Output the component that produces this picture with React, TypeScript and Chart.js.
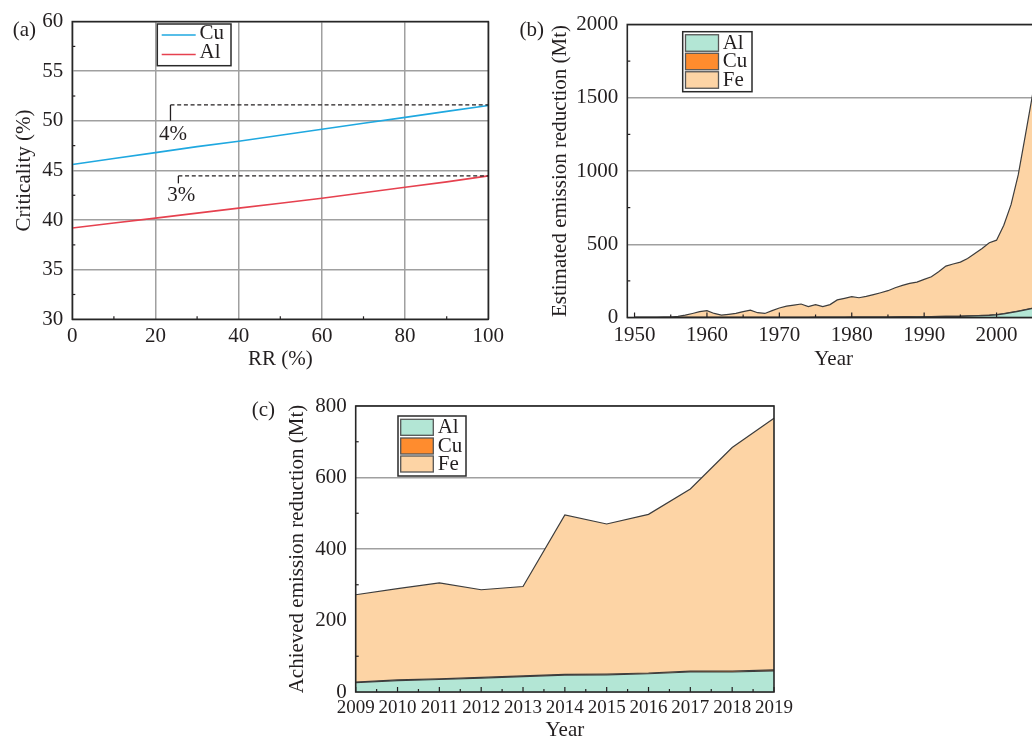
import { useEffect, useRef } from 'react';
import { Chart, registerables } from 'chart.js';
Chart.register(...registerables);

const SERIF = '"Liberation Serif", "Times New Roman", Times, serif';
const INK = '#231f20';
const GRID = '#a0a0a0';
const EDGE = '#3d3d3d';
const AL_FILL = '#b3e6d5';
const CU_FILL = '#ff8c2e';
const FE_FILL = '#fdd4a5';

// ---------- Panel (a): criticality vs recycling rate ----------
const rrPercent = [0, 10, 20, 30, 40, 50, 60, 70, 80, 90, 100];
const cuCriticality = [45.6, 46.2, 46.8, 47.4, 47.95, 48.55, 49.15, 49.75, 50.35, 50.95, 51.55];
const alCriticality = [39.2, 39.7, 40.2, 40.7, 41.2, 41.7, 42.2, 42.75, 43.3, 43.85, 44.45];
const aNoteLabels = ['4%', '3%'];
const aNoteX = [23.6, 25.5];
const aNoteTop = [51.6, 44.45];
const aNoteBottom = [50.0, 43.7];
const aNoteTextX = [24.2, 26.2];
const aNoteTextY = [48.6, 42.5];

// ---------- Panel (b): estimated emission reduction ----------
const bYears = [
  1950, 1951, 1952, 1953, 1954, 1955, 1956, 1957, 1958, 1959,
  1960, 1961, 1962, 1963, 1964, 1965, 1966, 1967, 1968, 1969,
  1970, 1971, 1972, 1973, 1974, 1975, 1976, 1977, 1978, 1979,
  1980, 1981, 1982, 1983, 1984, 1985, 1986, 1987, 1988, 1989,
  1990, 1991, 1992, 1993, 1994, 1995, 1996, 1997, 1998, 1999,
  2000, 2001, 2002, 2003, 2004, 2005,
];
const bAl = [
  0.3, 0.3, 0.3, 0.3, 0.3, 0.3, 0.3, 0.3, 0.3, 0.3,
  0.5, 0.5, 0.5, 0.5, 0.5, 0.5, 0.5, 0.5, 0.5, 0.5,
  1, 1, 1, 1, 1, 1.5, 1.5, 1.5, 1.5, 1.5,
  2, 2, 2.5, 2.5, 3, 3, 3.5, 4, 4, 4.5,
  5, 5.5, 6, 7, 7.5, 8, 10, 11, 13, 15,
  18, 25, 33, 42, 52, 62,
];
const bCu = [
  0.2, 0.2, 0.2, 0.2, 0.2, 0.2, 0.2, 0.2, 0.2, 0.2,
  0.2, 0.2, 0.2, 0.2, 0.2, 0.2, 0.2, 0.2, 0.2, 0.2,
  0.5, 0.5, 0.5, 0.5, 0.5, 0.5, 0.5, 0.5, 0.5, 0.5,
  0.5, 0.5, 0.5, 0.5, 0.5, 0.5, 0.5, 0.5, 0.5, 0.5,
  1, 1, 1, 1, 1, 1, 1, 1, 1, 1,
  1.5, 1.5, 1.5, 1.5, 1.5, 1.5,
];
const bFe = [
  0, 0.3, 0.5, 1, 1.5, 2, 7, 16, 27, 39,
  46, 27, 16, 21, 27, 39, 50, 32, 27, 46,
  63.5, 76.5, 83.5, 90.5, 72.5, 86, 72, 86, 118, 129,
  139.5, 132.5, 141, 153, 165.5, 179.5, 199, 214.5, 228.5, 237,
  254, 271.5, 305, 343, 356.5, 369, 392, 425, 457, 494,
  508.5, 603.5, 735.5, 931.5, 1196.5, 1466.5,
];
const bXTicks = [1950, 1960, 1970, 1980, 1990, 2000];
const bXMinor = [1955, 1965, 1975, 1985, 1995, 2005];

// ---------- Panel (c): achieved emission reduction ----------
const cYears = ['2009', '2010', '2011', '2012', '2013', '2014', '2015', '2016', '2017', '2018', '2019'];
const cAl = [26, 32, 35, 39, 43, 47, 48, 51, 56, 56, 59];
const cCu = [1.5, 1.8, 1.9, 2.1, 2.0, 2.3, 2.4, 2.2, 2.6, 2.7, 2.9];
const cFe = [244.5, 255.2, 268.1, 244.9, 250, 445.7, 419.6, 443.8, 509.4, 625.3, 704.1];

const CW = 1100;
const CH = 760;

const decor = {
  id: 'decor',
  afterDatasetsDraw(chart: any, _args: any, opts: any) {
    const { ctx, chartArea: a } = chart;
    ctx.save();
    ctx.setLineDash([]);
    // inward tick marks
    ctx.strokeStyle = INK;
    ctx.lineWidth = 1.2;
    for (const t of opts.ticks || []) {
      const sc = chart.scales[t.axis];
      for (const v of t.values) {
        const p = sc.getPixelForValue(v);
        ctx.beginPath();
        if (t.axis === 'x') {
          ctx.moveTo(p, a.bottom);
          ctx.lineTo(p, a.bottom - t.len);
        } else {
          ctx.moveTo(a.left, p);
          ctx.lineTo(a.left + t.len, p);
        }
        ctx.stroke();
      }
    }
    // frame
    ctx.strokeStyle = '#262626';
    ctx.lineWidth = 1.6;
    ctx.strokeRect(a.left, a.top, a.right - a.left, a.bottom - a.top);

    // annotations
    const n = opts.notes;
    if (n) {
      const xs = chart.scales.x;
      const ys = chart.scales.y;
      ctx.strokeStyle = INK;
      ctx.lineWidth = 1.3;
      for (let i = 0; i < n.labels.length; i++) {
        const x0 = xs.getPixelForValue(n.x[i]);
        const yt = ys.getPixelForValue(n.top[i]);
        const yb = ys.getPixelForValue(n.bottom[i]);
        ctx.setLineDash([]);
        ctx.beginPath();
        ctx.moveTo(x0, yb);
        ctx.lineTo(x0, yt);
        ctx.stroke();
        ctx.setLineDash([4, 2.7]);
        ctx.beginPath();
        ctx.moveTo(x0, yt);
        ctx.lineTo(a.right, yt);
        ctx.stroke();
        ctx.setLineDash([]);
        ctx.fillStyle = INK;
        ctx.font = `21px ${SERIF}`;
        ctx.textAlign = 'center';
        ctx.textBaseline = 'middle';
        ctx.fillText(n.labels[i], xs.getPixelForValue(n.tx[i]), ys.getPixelForValue(n.ty[i]));
      }
    }

    // legend
    const lg = opts.legend;
    if (lg) {
      const [x0, y0, x1, y1] = lg.box;
      ctx.setLineDash([]);
      ctx.fillStyle = '#ffffff';
      ctx.fillRect(x0, y0, x1 - x0, y1 - y0);
      ctx.strokeStyle = '#2a2a2a';
      ctx.lineWidth = 1.5;
      ctx.strokeRect(x0, y0, x1 - x0, y1 - y0);
      chart.data.datasets.forEach((ds: any, i: number) => {
        const yc = lg.rows[i];
        if (lg.kind === 'line') {
          ctx.strokeStyle = ds.borderColor;
          ctx.lineWidth = 1.6;
          ctx.beginPath();
          ctx.moveTo(lg.sx0, yc + 2);
          ctx.lineTo(lg.sx1, yc + 2);
          ctx.stroke();
        } else {
          ctx.fillStyle = ds.backgroundColor;
          ctx.fillRect(lg.sx0, yc - lg.sh / 2, lg.sx1 - lg.sx0, lg.sh);
          ctx.strokeStyle = '#555555';
          ctx.lineWidth = 1.3;
          ctx.strokeRect(lg.sx0, yc - lg.sh / 2, lg.sx1 - lg.sx0, lg.sh);
        }
        ctx.fillStyle = INK;
        ctx.font = `21px ${SERIF}`;
        ctx.textAlign = 'left';
        ctx.textBaseline = 'middle';
        ctx.fillText(ds.label, lg.tx, yc);
      });
    }
    ctx.restore();
  },
};

const font21 = { family: SERIF, size: 21 };
const font19 = { family: SERIF, size: 19 };
const asText = (v: any) => String(v);

function areaDs(label: string, data: any[], color: string, fill: any) {
  return {
    label,
    data,
    backgroundColor: color,
    borderColor: EDGE,
    borderWidth: 1.2,
    pointRadius: 0,
    tension: 0,
    fill,
  };
}

function baseOptions(padding: any, extra: any) {
  return {
    responsive: false,
    animation: false,
    events: [],
    layout: { padding },
    plugins: { legend: { display: false }, tooltip: { enabled: false }, decor: extra },
  };
}

function configA(): any {
  return {
    type: 'line',
    data: {
      datasets: [
        { label: 'Cu', data: rrPercent.map((x, i) => ({ x, y: cuCriticality[i] })), borderColor: '#1fa8e0', borderWidth: 1.6, pointRadius: 0, fill: false },
        { label: 'Al', data: rrPercent.map((x, i) => ({ x, y: alCriticality[i] })), borderColor: '#e6414f', borderWidth: 1.6, pointRadius: 0, fill: false },
      ],
    },
    options: {
      ...baseOptions(
        { left: 7.4, top: 18.3, right: CW - 488.3, bottom: CH - 375.9 },
        {
          ticks: [
            { axis: 'x', values: [10, 30, 50, 70, 90], len: 3 },
            { axis: 'y', values: [32.5, 37.5, 42.5, 47.5, 52.5, 57.5], len: 3 },
          ],
          notes: { labels: aNoteLabels, x: aNoteX, top: aNoteTop, bottom: aNoteBottom, tx: aNoteTextX, ty: aNoteTextY },
          legend: { box: [157.3, 24, 231, 65.7], kind: 'line', rows: [33, 52.5], sx0: 161.7, sx1: 195.7, tx: 199.5 },
        }
      ),
      scales: {
        x: {
          type: 'linear', min: 0, max: 100,
          afterFit: (s: any) => { s.height = 56.6; },
          ticks: { stepSize: 20, padding: 4.8, color: INK, font: font21, maxRotation: 0, autoSkip: false },
          grid: { color: GRID, lineWidth: 1.5, drawTicks: false },
          border: { display: false },
          title: { display: true, text: 'RR (%)', color: INK, font: font21, padding: { top: 0, bottom: 4 } },
        },
        y: {
          type: 'linear', min: 30, max: 60,
          afterFit: (s: any) => { s.width = 64.9; },
          ticks: { stepSize: 5, padding: 9, color: INK, font: font21 },
          grid: { color: GRID, lineWidth: 1.5, drawTicks: false },
          border: { display: false },
          title: { display: true, text: 'Criticality (%)', color: INK, font: font21, padding: { top: 4, bottom: 0 } },
        },
      },
    },
    plugins: [decor],
  };
}

function configB(): any {
  const pts = (arr: number[]) => bYears.map((x, i) => ({ x, y: arr[i] }));
  return {
    type: 'line',
    data: {
      datasets: [
        areaDs('Al', pts(bAl), AL_FILL, 'origin'),
        areaDs('Cu', pts(bCu), CU_FILL, '-1'),
        areaDs('Fe', pts(bFe), FE_FILL, '-1'),
      ],
    },
    options: {
      ...baseOptions(
        { left: 543.4, top: 24.5, right: CW - 1040, bottom: CH - 375.9 },
        {
          ticks: [
            { axis: 'x', values: bXTicks, len: 5 },
            { axis: 'x', values: bXMinor, len: 3 },
            { axis: 'y', values: [250, 750, 1250, 1750], len: 3 },
          ],
          legend: { box: [682.7, 31.7, 752, 91.7], kind: 'box', rows: [43, 61.5, 80], sx0: 685.5, sx1: 718.5, sh: 16.5, tx: 722.7 },
        }
      ),
      scales: {
        x: {
          type: 'linear', min: 1949, max: 2006,
          afterBuildTicks: (s: any) => { s.ticks = bXTicks.map((v) => ({ value: v })); },
          afterFit: (s: any) => { s.height = 58.4; },
          ticks: { padding: 5.7, color: INK, font: font21, maxRotation: 0, autoSkip: false, callback: asText },
          grid: { display: false, drawTicks: false },
          border: { display: false },
          title: { display: true, text: 'Year', color: INK, font: font21, padding: { top: 0, bottom: 4 } },
        },
        y: {
          type: 'linear', min: 0, max: 2000, stacked: true,
          afterFit: (s: any) => { s.width = 83.9; },
          ticks: { stepSize: 500, padding: 9, color: INK, font: font21, callback: asText },
          grid: { color: GRID, lineWidth: 1.5, drawTicks: false },
          border: { display: false },
          title: { display: true, text: 'Estimated emission reduction (Mt)', color: INK, font: font21, padding: { top: 4, bottom: 0 } },
        },
      },
    },
    plugins: [decor],
  };
}

function configC(): any {
  const halfSteps = cYears.slice(0, -1).map((_, i) => i + 0.5);
  return {
    type: 'line',
    data: {
      labels: cYears,
      datasets: [
        areaDs('Al', cAl, AL_FILL, 'origin'),
        areaDs('Cu', cCu, CU_FILL, '-1'),
        areaDs('Fe', cFe, FE_FILL, '-1'),
      ],
    },
    options: {
      ...baseOptions(
        { left: 280.4, top: 406, right: CW - 774, bottom: CH - 746.6 },
        {
          ticks: [
            { axis: 'x', values: cYears.map((_, i) => i), len: 5 },
            { axis: 'x', values: halfSteps, len: 3 },
            { axis: 'y', values: [100, 300, 500, 700], len: 3 },
          ],
          legend: { box: [398, 416, 466, 476], kind: 'box', rows: [427.3, 446, 464], sx0: 400.7, sx1: 433.3, sh: 16, tx: 437.7 },
        }
      ),
      scales: {
        x: {
          type: 'category', offset: false,
          afterFit: (s: any) => { s.height = 54.6; },
          ticks: { padding: 4.9, color: INK, font: font19, maxRotation: 0, autoSkip: false },
          grid: { display: false, drawTicks: false },
          border: { display: false },
          title: { display: true, text: 'Year', color: INK, font: font21, padding: { top: 0, bottom: 4 } },
        },
        y: {
          type: 'linear', min: 0, max: 800, stacked: true,
          afterFit: (s: any) => { s.width = 75.3; },
          ticks: { stepSize: 200, padding: 9, color: INK, font: font21, callback: asText },
          grid: { color: GRID, lineWidth: 1.5, drawTicks: false },
          border: { display: false },
          title: { display: true, text: 'Achieved emission reduction (Mt)', color: INK, font: font21, padding: { top: 4, bottom: 0 } },
        },
      },
    },
    plugins: [decor],
  };
}

const canvasStyle: any = { position: 'absolute', left: 0, top: 0 };
const labelStyle = (left: number, top: number): any => ({
  position: 'absolute', left, top, font: `21px ${SERIF}`, lineHeight: '24px', color: INK, whiteSpace: 'nowrap',
});

export default function App() {
  const refA = useRef<HTMLCanvasElement>(null);
  const refB = useRef<HTMLCanvasElement>(null);
  const refC = useRef<HTMLCanvasElement>(null);

  useEffect(() => {
    const charts = [
      new Chart(refA.current as HTMLCanvasElement, configA()),
      new Chart(refB.current as HTMLCanvasElement, configB()),
      new Chart(refC.current as HTMLCanvasElement, configC()),
    ];
    return () => charts.forEach((c) => c.destroy());
  }, []);

  return (
    <div style={{ position: 'absolute', left: 0, top: 0, width: 1032, height: 741, overflow: 'hidden', background: '#ffffff' }}>
      <canvas ref={refA} width={CW} height={CH} style={canvasStyle} />
      <canvas ref={refB} width={CW} height={CH} style={canvasStyle} />
      <canvas ref={refC} width={CW} height={CH} style={canvasStyle} />
      <div style={labelStyle(12.7, 17.3)}>(a)</div>
      <div style={labelStyle(519.5, 17.3)}>(b)</div>
      <div style={labelStyle(251.7, 397.3)}>(c)</div>
    </div>
  );
}
